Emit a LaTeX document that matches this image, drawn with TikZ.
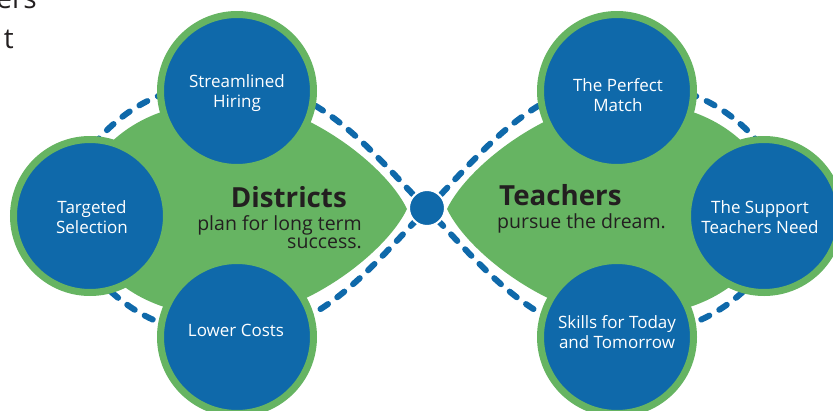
\documentclass[tikz,border=0pt]{standalone}
\usepackage{fontspec}
\setmainfont{Open Sans}
\definecolor{dblue}{HTML}{0F69AA}
\definecolor{lgreen}{HTML}{66B462}
\definecolor{ink}{HTML}{231F20}
\tikzset{
  dashring/.style={draw=dblue, line width=6pt, line cap=round, dash pattern=on 9pt off 11.5pt},
  leaf/.style={fill=lgreen},
  bubble/.style={circle, fill=dblue, draw=lgreen, line width=7pt, minimum size=153pt, inner sep=0pt},
  btext/.style={text=white, font=\fontsize{17}{19.5}\selectfont, align=center, inner sep=0pt},
  headtext/.style={text=ink, font=\bfseries\fontsize{27.7}{32}\selectfont, inner sep=0pt},
  subtext/.style={text=ink, font=\fontsize{19.5}{19.5}\selectfont, inner sep=0pt},
}
\begin{document}
\begin{tikzpicture}[x=1pt,y=-1pt]
\useasboundingbox (0,0) rectangle (833,410);
\clip (0,0) rectangle (833,410);
% partial text at top-left
\node[text=ink, font=\fontsize{28}{28}\selectfont, anchor=base east, inner sep=0pt] (tl1) at (37,8) {ers};
\node[text=ink, font=\fontsize{28}{28}\selectfont, anchor=base east, inner sep=0pt] (tl2) at (14,48) {t};
% dashed outlines
\draw[dashring] (427,209) .. controls (375,156) and (320,82) .. (235,82)
  .. controls (170,82) and (100,105) .. (55,209)
  .. controls (100,313) and (170,336) .. (235,336)
  .. controls (320,336) and (375,262) .. (427,209);
\draw[dashring] (427,209) .. controls (479,156) and (534,82) .. (619,82)
  .. controls (684,82) and (754,105) .. (799,209)
  .. controls (754,313) and (684,336) .. (619,336)
  .. controls (534,336) and (479,262) .. (427,209);
% leaves
\fill[leaf] (407,209) .. controls (385,163) and (300,101) .. (235,101)
  .. controls (165,101) and (100,123) .. (70,209)
  .. controls (100,295) and (165,317) .. (235,317)
  .. controls (300,317) and (385,255) .. (407,209) -- cycle;
\fill[leaf] (447,209) .. controls (469,163) and (554,101) .. (619,101)
  .. controls (689,101) and (754,123) .. (784,209)
  .. controls (754,295) and (689,317) .. (619,317)
  .. controls (554,317) and (469,255) .. (447,209) -- cycle;
% circles
\node[bubble] (sh) at (237,91) {};
\node[bubble] (ts) at (90,216) {};
\node[bubble] (lc) at (237,337) {};
\node[bubble] (pm) at (617,91) {};
\node[bubble] (sn) at (764,216) {};
\node[bubble] (sk) at (617,337) {};
\node[circle, fill=dblue, draw=white, line width=2pt, minimum size=36pt, inner sep=0pt] (hub) at (427,208) {};
% circle texts
\node[btext] (shT) at (237,93) {Streamlined\\Hiring};
\node[btext] (tsT) at (92,217) {Targeted\\Selection};
\node[btext] (lcT) at (236,330) {Lower Costs};
\node[btext] (pmT) at (618,95) {The Perfect\\Match};
\node[btext] (snT) at (760,217) {The Support\\Teachers Need};
\node[btext] (skT) at (617,332) {Skills for Today\\and Tomorrow};
% centre texts
\node[headtext, anchor=base east] (dist) at (347,207) {Districts};
\node[subtext, anchor=base east] (dist1) at (362,230) {plan for long term};
\node[subtext, anchor=base east] (dist2) at (362,248) {success.};
\node[headtext, anchor=base west] (teach) at (499,205) {Teachers};
\node[subtext, anchor=base west] (teach1) at (497,228) {pursue the dream.};
\end{tikzpicture}
\end{document}
